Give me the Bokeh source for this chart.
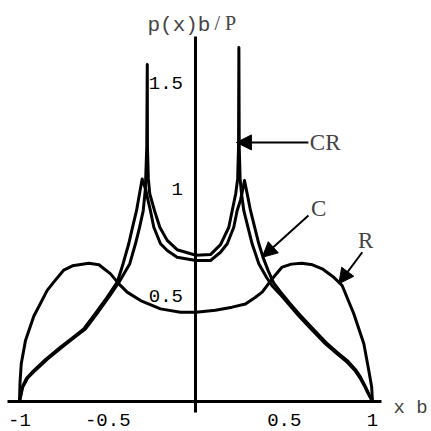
from bokeh.plotting import figure
from bokeh.models import Range1d, FixedTicker, Label, Arrow, NormalHead
from bokeh.embed import file_html
from bokeh.resources import INLINE

# ---- data: dimensionless contact pressure p(x)b/P against x/b ----
# curve R
r_x = [-1.0, -0.997, -0.99, -0.966, -0.919, -0.843, -0.806, -0.749, -0.70, -0.607,
       -0.55, -0.484, -0.437, -0.39, -0.314, -0.201, -0.088, 0.0, 0.11, 0.205,
       0.28, 0.337, 0.375, 0.432, 0.488, 0.54, 0.60, 0.66, 0.715, 0.775,
       0.828, 0.894, 0.951, 0.979, 0.995, 1.0]
r_y = [0.0, 0.09, 0.178, 0.288, 0.402, 0.524, 0.563, 0.620, 0.640, 0.652,
       0.645, 0.602, 0.555, 0.516, 0.476, 0.437, 0.421, 0.421, 0.430, 0.445,
       0.460, 0.492, 0.516, 0.579, 0.634, 0.648, 0.652, 0.645, 0.626, 0.590,
       0.547, 0.414, 0.272, 0.146, 0.07, 0.0]

# curve C (cusps at the punch corners)
c_x = [-1.0, -0.985, -0.96, -0.919, -0.85, -0.768, -0.70, -0.636, -0.57, -0.503,
       -0.446, -0.413, -0.381, -0.36, -0.337, -0.32, -0.305,
       -0.285, -0.272, -0.258, -0.239, -0.201, -0.163, -0.107, 0.0,
       0.082, 0.139, 0.177, 0.214, 0.233, 0.252, 0.265, 0.275,
       0.29, 0.309, 0.333, 0.356, 0.38, 0.41, 0.44, 0.48, 0.53, 0.592,
       0.66, 0.734, 0.80, 0.857, 0.904, 0.932, 0.96, 0.979, 1.0]
c_y = [0.0, 0.067, 0.11, 0.146, 0.20, 0.256, 0.30, 0.342, 0.415, 0.492,
       0.563, 0.650, 0.744, 0.82, 0.900, 0.980, 1.050,
       1.00, 0.95, 0.900, 0.822, 0.744, 0.712, 0.680, 0.665,
       0.665, 0.704, 0.744, 0.822, 0.900, 0.95, 1.00, 1.042,
       0.98, 0.900, 0.82, 0.744, 0.68, 0.615, 0.56, 0.516, 0.465, 0.406,
       0.345, 0.280, 0.232, 0.193, 0.150, 0.115, 0.07, 0.036, 0.0]

# curve CR (singular just inside the corners)
cr_x = [-1.0, -0.982, -0.955, -0.912, -0.842, -0.76, -0.692, -0.627, -0.561, -0.494,
        -0.436, -0.375, -0.343, -0.32, -0.299, -0.287, -0.279, -0.276,
        -0.275, -0.27, -0.262, -0.235, -0.205, -0.163, -0.107, 0.0,
        0.082, 0.139, 0.186, 0.205, 0.225, 0.236, 0.241, 0.243,
        0.245, 0.25, 0.258, 0.271, 0.295, 0.318, 0.356, 0.40, 0.432, 0.472,
        0.522, 0.584, 0.652, 0.726, 0.793, 0.851, 0.899, 0.928, 0.957, 0.977, 1.0]
cr_y = [0.0, 0.067, 0.11, 0.146, 0.20, 0.256, 0.30, 0.342, 0.415, 0.492,
        0.563, 0.650, 0.744, 0.82, 0.900, 1.00, 1.20, 1.59,
        1.20, 1.05, 0.98, 0.900, 0.822, 0.760, 0.716, 0.690,
        0.693, 0.740, 0.822, 0.900, 0.98, 1.05, 1.20, 1.67,
        1.20, 1.05, 0.98, 0.900, 0.82, 0.744, 0.650, 0.585, 0.545, 0.510,
        0.462, 0.402, 0.342, 0.278, 0.230, 0.190, 0.148, 0.113, 0.069, 0.035, 0.0]

x_ticks = [-1, -0.5, 0.5, 1]
x_tick_labels = ["-1", "-0.5", "0.5", "1"]
y_ticks = [0.5, 1, 1.5]
y_tick_labels = ["0.5", "1", "1.5"]

MONO = "Liberation Mono"
SERIF = "Liberation Serif"

# the frame fills the whole canvas so nothing drawn near the edges is clipped
p = figure(width=431, height=431, output_backend="svg", toolbar_location=None,
           x_range=Range1d(-1.1076, 1.3343), y_range=Range1d(-0.1415, 1.8915),
           min_border=0)
p.outline_line_color = None
p.background_fill_color = "white"
p.border_fill_color = "white"
p.xgrid.visible = False
p.ygrid.visible = False

# axes crossing at the origin
for ax in (p.xaxis, p.yaxis):
    ax.fixed_location = 0
    ax.axis_line_width = 3
    ax.axis_line_color = "black"
    ax.major_tick_line_color = None
    ax.minor_tick_line_color = None
    ax.major_label_text_font = MONO
    ax.major_label_text_font_size = "19px"
    ax.major_label_text_color = "black"

p.xaxis.bounds = (-1.068, 1.051)
p.xaxis.ticker = FixedTicker(ticks=x_ticks)
p.xaxis.major_label_overrides = dict(zip(x_ticks, x_tick_labels))
p.xaxis.major_label_standoff = 6
p.yaxis.bounds = (-0.052, 1.722)
p.yaxis.ticker = FixedTicker(ticks=y_ticks)
p.yaxis.major_label_overrides = dict(zip(y_ticks, y_tick_labels))
p.yaxis.major_label_standoff = 7

# pressure curves
lw = 3
p.line(r_x, r_y, line_color="black", line_width=lw, line_join="round")
p.line(c_x, c_y, line_color="black", line_width=lw, line_join="round")
p.line(cr_x, cr_y, line_color="black", line_width=lw, line_join="round")

# axis titles
p.add_layout(Label(x=1.119, y=-0.033, text="x b", text_font=MONO,
                   text_font_size="19px", text_baseline="alphabetic", text_align="left"))
p.add_layout(Label(x=-0.275, y=1.774, text="p(x)b", text_font=MONO,
                   text_font_size="21px", text_baseline="alphabetic", text_align="left"))
p.add_layout(Label(x=0.105, y=1.786, text="/ P", text_font=SERIF,
                   text_font_size="20px", text_baseline="alphabetic", text_align="left"))

# curve labels with pointers
def pointer(x0, y0, x1, y1):
    p.add_layout(Arrow(x_start=x0, y_start=y0, x_end=x1, y_end=y1,
                       line_width=2, line_color="black",
                       end=NormalHead(size=15, fill_color="black", line_color="black")))

pointer(0.637, 1.222, 0.229, 1.222)
p.add_layout(Label(x=0.645, y=1.222, text="CR", text_font=SERIF, text_font_size="23px",
                   text_baseline="middle", text_align="left"))
pointer(0.637, 0.877, 0.375, 0.68)
p.add_layout(Label(x=0.652, y=0.91, text="C", text_font=SERIF, text_font_size="23px",
                   text_baseline="middle", text_align="left"))
pointer(0.942, 0.704, 0.809, 0.555)
p.add_layout(Label(x=0.918, y=0.759, text="R", text_font=SERIF, text_font_size="23px",
                   text_baseline="middle", text_align="left"))

open("out.html", "w").write(file_html(p, INLINE))
